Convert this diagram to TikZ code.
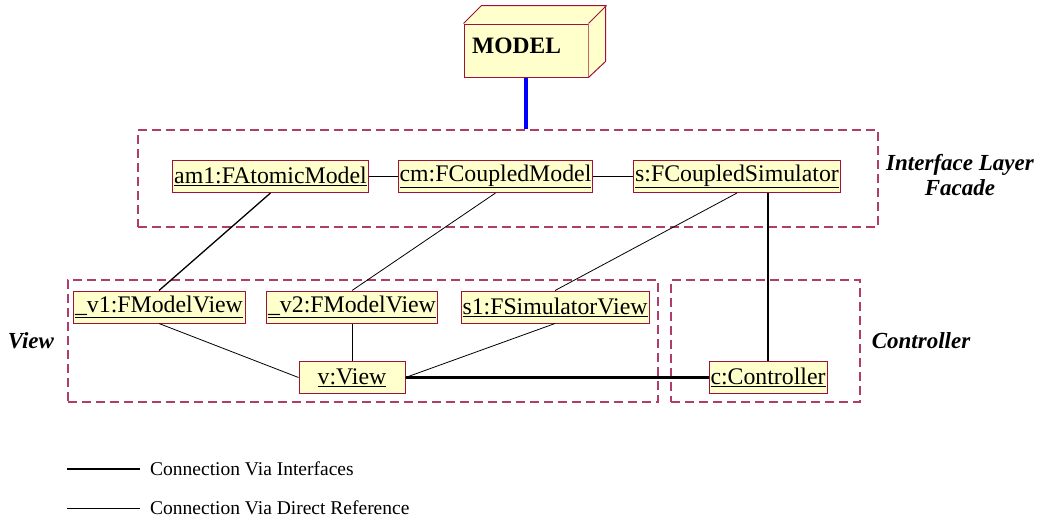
\documentclass[tikz,border=0pt]{standalone}
\usepackage{fontspec}
\setmainfont{Liberation Serif}
\definecolor{objfill}{RGB}{255,255,204}
\definecolor{objline}{RGB}{160,16,60}
\definecolor{grpline}{RGB}{176,60,106}
\definecolor{busblue}{RGB}{0,0,255}
\begin{document}
\begin{tikzpicture}[x=1pt,y=-1pt,
  obj/.style={draw=objline, fill=objfill, line width=1pt, inner xsep=1.5pt,
    inner ysep=0pt, minimum height=32pt, font=\fontsize{23.8}{27}\selectfont},
  grp/.style={draw=grpline, dash pattern=on 9pt off 5pt, line width=1.2pt,
    inner sep=0pt},
  iface/.style={line width=2.6pt},
  direct/.style={line width=0.8pt},
  lbl/.style={font=\fontsize{23}{25}\selectfont\bfseries\itshape, align=center},
  legendtext/.style={font=\fontsize{19.5}{22}\selectfont, anchor=west, inner sep=0pt}]
\useasboundingbox (0,0) rectangle (1041,520);

% MODEL node (3-D box)
\node[draw=objline, fill=objfill, line width=1pt, minimum width=124pt,
      minimum height=53pt, inner sep=0pt] (model) at (526,50.5) {};
\fill[objfill] (model.north west) -- ++(18,-18) -- ++(124,0) -- ++(0,56) -- (model.south east) -- (model.north east) -- cycle;
\draw[objline, line width=1pt, line join=round]
  (model.north west) -- ++(18,-18) -- ++(124,0) -- ++(0,56) -- (model.south east)
  (model.north east) -- ++(18,-18);
\node[anchor=base west, inner sep=0pt, font=\fontsize{23.5}{26}\selectfont\bfseries]
  (modeltxt) at (472,53) {MODEL};

% group frames
\node[grp, minimum width=740pt, minimum height=97pt] (layer) at (508,178.5) {};
\node[grp, minimum width=590pt, minimum height=122pt] (viewgrp) at (363,341) {};
\node[grp, minimum width=189pt, minimum height=122pt] (ctrlgrp) at (765.5,341) {};

\node[lbl] (layerlbl) at (960,175) {Interface Layer\\Facade};
\node[lbl] (viewlbl) at (31,341) {View};
\node[lbl] (ctrllbl) at (921,341) {Controller};

% objects
\node[obj, minimum width=195pt] (am1) at (270.5,176.5) {\underline{am1:FAtomicModel}};
\node[obj, minimum width=193pt] (cm)  at (495.5,176.5) {\underline{cm:FCoupledModel}};
\node[obj, minimum width=204pt] (s)   at (737,176.5)   {\underline{s:FCoupledSimulator}};
\node[obj, minimum width=172pt] (v1)  at (159,307)     {\underline{\_v1:FModelView}};
\node[obj, minimum width=170pt] (v2)  at (352,307)     {\underline{\_v2:FModelView}};
\node[obj, minimum width=188pt] (s1)  at (555,307)     {\underline{s1:FSimulatorView}};
\node[obj, minimum width=106pt] (v)   at (352,377.5)   {\underline{v:View}};
\node[obj, minimum width=118pt] (c)   at (768,377.5)   {\underline{c:Controller}};

% model bus
\draw[busblue, line width=3.5pt] (model.south) -- (model.south |- layer.north);

% connectors
\draw[direct] (am1) -- (cm);
\draw[direct] (cm) -- (s);
\draw[line width=1.3pt] (am1.south) -- (v1.north);
\draw[direct] (cm.south) -- (v2.north);
\draw[direct] (s.south) -- (s1.north);
\draw[direct] (s1.south) -- (v.east);
\draw[direct] (v1.south) -- (v.west);
\draw[direct] (v2.south) -- (v.north);
\draw[iface] (v.east) -- (c.west);
\draw[iface] (c.north |- s.south) -- (c.north);

% legend
\coordinate (lgA1) at (67,469);
\coordinate (lgA2) at (140,469);
\coordinate (lgB1) at (67,508);
\coordinate (lgB2) at (140,508);
\draw[iface] (lgA1) -- (lgA2);
\draw[direct] (lgB1) -- (lgB2);
\node[legendtext] (lgAtxt) at (150,469) {Connection Via Interfaces};
\node[legendtext] (lgBtxt) at (150,508) {Connection Via Direct Reference};
\end{tikzpicture}
\end{document}
